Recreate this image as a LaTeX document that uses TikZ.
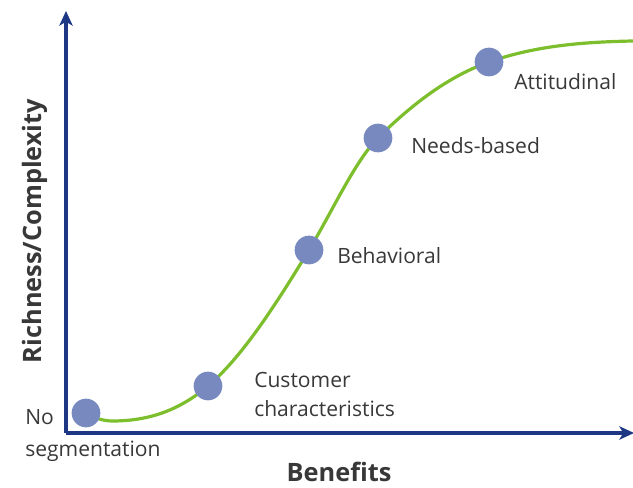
\documentclass[tikz,border=0pt]{standalone}
\usepackage{fontspec}
\setmainfont{Open Sans}
\usetikzlibrary{arrows.meta}
\definecolor{axisblue}{HTML}{1D3784}
\definecolor{curvegreen}{HTML}{7DBE2C}
\definecolor{dotblue}{HTML}{7889BF}
\definecolor{txtgray}{HTML}{383838}
\tikzset{
  axisline/.style={draw=axisblue, line width=2.3pt, -{Stealth[length=11pt,width=10pt,inset=3pt]}},
  dot/.style={circle, fill=dotblue, minimum size=21.5pt, inner sep=0pt},
  lbl/.style={text=txtgray, font=\fontsize{15.8}{18}\selectfont, inner sep=0pt},
  axlbl/.style={text=txtgray, font=\bfseries\fontsize{19}{22}\selectfont, inner sep=0pt},
}
\begin{document}
\begin{tikzpicture}[x=0.75pt,y=-0.75pt]
\useasboundingbox (0,0) rectangle (633,488);
\coordinate (O) at (66,433);
\coordinate (ytip) at (66,11);
\coordinate (xtip) at (634,433);
\draw[axisline] (O) -- (ytip);
\draw[axisline] (O) -- (xtip);
\coordinate (p0) at (86,415);
\coordinate (p1) at (112,421);
\coordinate (p2) at (208,386);
\coordinate (p3) at (309,250);
\coordinate (p4) at (378,138);
\coordinate (p5) at (489,62);
\coordinate (p6) at (633,41);
\draw[curvegreen, line width=2.4pt, line cap=round]
  (p0) .. controls (94.7,417.6) and (103.3,421) .. (p1)
       .. controls (144,421) and (176,413.2) .. (p2)
       .. controls (241.7,357.4) and (275.3,305.6) .. (p3)
       .. controls (332,212) and (355,161) .. (p4)
       .. controls (415,101) and (452,75) .. (p5)
       .. controls (537,45.2) and (585,42) .. (p6);
\node[dot] (n0) at (86,413) {};
\node[dot] (n1) at (p2) {};
\node[dot] (n2) at (p3) {};
\node[dot] (n3) at (p4) {};
\node[dot] (n4) at (p5) {};
\node[lbl, anchor=base west] (l0a) at (25,425) {No};
\node[lbl, anchor=base west] (l0b) at (25,457) {segmentation};
\node[lbl, anchor=base west] (l1a) at (254,388) {Customer};
\node[lbl, anchor=base west] (l1b) at (254,417) {characteristics};
\node[lbl, anchor=base west] (l2) at (337,264) {Behavioral};
\node[lbl, anchor=base west] (l3) at (411,154) {Needs-based};
\node[lbl, anchor=base west] (l4) at (514,90) {Attitudinal};
\node[axlbl, anchor=base] (xl) at (339,482) {Benefits};
\node[axlbl, anchor=base, rotate=90] (yl) at (41,231) {Richness/Complexity};
\end{tikzpicture}
\end{document}
